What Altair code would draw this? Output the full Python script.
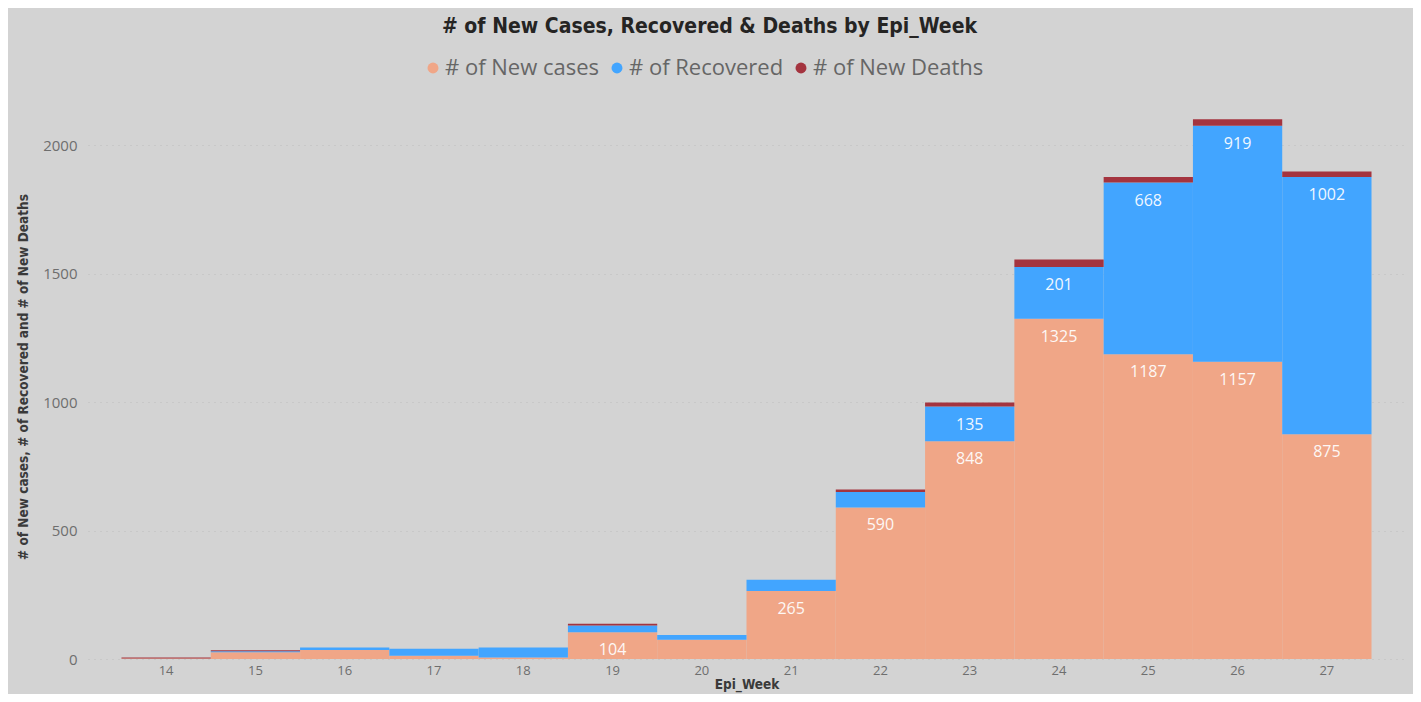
import altair as alt
import pandas as pd

weeks = [14, 15, 16, 17, 18, 19, 20, 21, 22, 23, 24, 25, 26, 27]
new_cases = [2, 26, 35, 13, 6, 104, 75, 265, 590, 848, 1325, 1187, 1157, 875]
recovered = [0, 4, 10, 27, 39, 26, 18, 44, 60, 135, 201, 668, 919, 1002]
new_deaths = [4, 4, 0, 0, 0, 7, 0, 0, 10, 16, 30, 22, 26, 21]

series_names = ["# of New cases", "# of Recovered", "# of New Deaths"]
series_colors = ["#F0A687", "#42A5FF", "#A4343F"]
y_ticks = [0, 500, 1000, 1500, 2000]

rows = []
for i, w in enumerate(weeks):
    for k, vals in enumerate([new_cases, recovered, new_deaths]):
        rows.append({"week": w, "series": series_names[k], "value": vals[i], "order": k})
df = pd.DataFrame(rows)

base = alt.Chart(df).transform_stack(
    stack="value",
    as_=["y0", "y1"],
    groupby=["week"],
    sort=[alt.SortField(field="order", order="ascending")],
)

x_enc = alt.X(
    "week:O",
    title="Epi_Week",
    scale=alt.Scale(paddingInner=0, paddingOuter=0.375),
    axis=alt.Axis(
        labelAngle=0,
        labelFontSize=13,
        labelColor="#6E6E6E",
        labelFont="Open Sans",
        labelPadding=5,
        ticks=False,
        domain=False,
        titleFontSize=13.5,
        titleFont="DejaVu Sans Condensed",
        titleFontWeight="bold",
        titleColor="#3A3A3A",
        titlePadding=0,
    ),
)

y_scale = alt.Scale(domain=[0, 2200], nice=False)

bars = base.mark_bar(strokeWidth=0).encode(
    x=x_enc,
    y=alt.Y(
        "y1:Q",
        scale=y_scale,
        title="# of New cases, # of Recovered and # of New Deaths",
        axis=alt.Axis(
            values=y_ticks,
            format="d",
            labelFontSize=15,
            labelColor="#6E6E6E",
            labelFont="Open Sans",
            labelPadding=11,
            ticks=False,
            domain=False,
            grid=True,
            gridColor="#BDBDBD",
            gridDash=[1, 5],
            gridWidth=1,
            titleFontSize=13.5,
            titleFont="DejaVu Sans Condensed",
            titleFontWeight="bold",
            titleColor="#3A3A3A",
            titlePadding=12,
        ),
    ),
    y2="y0:Q",
    color=alt.Color(
        "series:N",
        scale=alt.Scale(domain=series_names, range=series_colors),
        legend=alt.Legend(
            title=None,
            orient="none",
            legendX=334,
            legendY=-37,
            direction="horizontal",
            symbolType="circle",
            symbolSize=120,
            symbolStrokeWidth=0,
            labelFontSize=22,
            labelFont="Open Sans",
            labelColor="#666666",
            labelOffset=1,
            labelLimit=400,
            columnPadding=6,
        ),
    ),
    order=alt.Order("order:Q"),
)

labels = base.transform_filter("datum.value >= 100").mark_text(
    color="#FFFFFF",
    opacity=0.92,
    baseline="middle",
    align="center",
    dy=18,
    fontSize=16,
    font="Open Sans",
).encode(
    x=alt.X("week:O"),
    y=alt.Y("y1:Q", scale=y_scale),
    text=alt.Text("value:Q"),
)

chart = alt.layer(bars, labels).properties(
    width=1317,
    height=565,
    background="#D3D3D3",
    autosize=alt.AutoSizeParams(type="none"),
    padding={"left": 80, "top": 86, "right": 8, "bottom": 35},
    title=alt.Title(
        "# of New Cases, Recovered & Deaths by Epi_Week",
        fontSize=21,
        font="DejaVu Sans Condensed",
        fontWeight="bold",
        color="#252423",
        anchor="middle",
        dx=-37,
        offset=20,
    ),
).configure_view(stroke=None)

chart.save("out.html", embed_options={"renderer": "svg", "actions": False})
